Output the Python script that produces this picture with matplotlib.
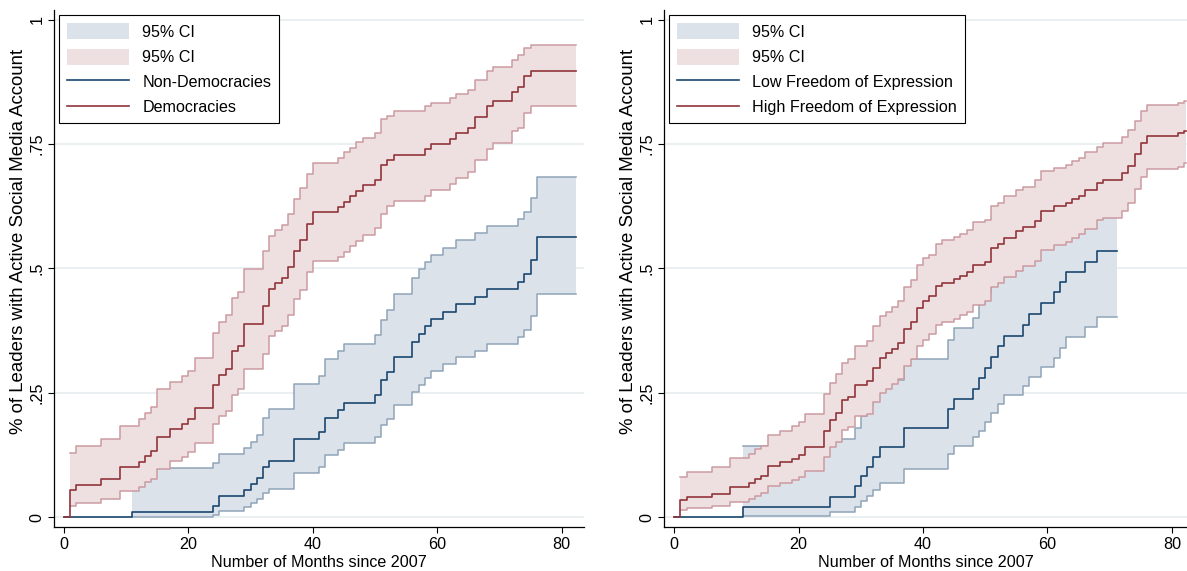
import numpy as np
import matplotlib
matplotlib.use("Agg")
from matplotlib import pyplot as plt
from matplotlib.patches import Patch
from matplotlib.lines import Line2D

# ---- left panel: regime type (Kaplan-Meier style cumulative share) ----
dem_t = [0, 1, 2, 6, 9, 12, 13, 14, 15, 17, 19, 20, 21, 24, 25, 26, 27, 28, 29, 32,
         33, 34, 35, 36, 37, 38, 39, 40, 44, 45, 46, 47, 48, 50, 51, 52, 53, 58, 59, 62,
         63, 65, 66, 68, 69, 72, 73, 74, 75, 82.3]
dem_est = [0, .054, .065, .077, .100, .111, .122, .132, .160, .177, .187, .198, .220, .266, .286,
           .298, .333, .345, .389, .424, .459, .470, .481, .503, .536, .557, .590, .613, .623, .634,
           .645, .656, .667, .678, .708, .719, .729, .740, .750, .761, .772, .783, .805, .826, .837,
           .856, .866, .888, .898, .898]
dem_hi = [0, .128, .143, .157, .184, .197, .209, .222, .258, .271, .283, .294, .319, .370, .392,
          .406, .440, .452, .498, .535, .566, .577, .588, .609, .640, .662, .691, .712, .723, .734,
          .743, .754, .763, .772, .800, .807, .816, .826, .833, .843, .851, .860, .879, .897, .905,
          .919, .929, .943, .949, .949]
dem_lo = [0, .022, .029, .037, .053, .061, .070, .077, .097, .113, .121, .131, .148, .187, .204,
          .214, .246, .257, .297, .328, .364, .374, .384, .406, .439, .457, .492, .515, .524, .534,
          .546, .556, .568, .581, .610, .625, .635, .646, .658, .669, .683, .695, .718, .740, .753,
          .776, .783, .812, .826, .826]

nd_t = [0, 11, 24, 25, 29, 30, 31, 32, 33, 37, 41, 42, 44, 45, 50, 51, 52, 53, 56, 57,
        58, 59, 61, 63, 66, 68, 73, 74, 75, 76, 82.3]
nd_est = [0, .011, .022, .043, .054, .067, .079, .100, .113, .156, .171, .200, .215, .230, .246,
          .276, .292, .322, .352, .369, .385, .399, .413, .428, .443, .458, .473, .488, .518, .563,
          .563]
nd_hi = [0, .099, .109, .127, .138, .150, .165, .200, .217, .268, .284, .317, .334, .349, .367,
         .397, .416, .448, .481, .498, .513, .527, .542, .557, .571, .586, .600, .614, .642, .685,
         .685]
nd_lo = [0, .001, .005, .013, .020, .029, .037, .049, .057, .089, .101, .124, .135, .148, .161,
         .186, .198, .225, .252, .266, .280, .294, .307, .322, .335, .349, .362, .377, .405, .449,
         .449]

# ---- right panel: freedom of expression ----
hf_t = [0, 1, 2, 6, 9, 12, 13, 14, 15, 17, 19, 20, 21, 24, 25, 26, 27, 28, 29, 31,
        32, 33, 34, 35, 36, 37, 38, 39, 40, 41, 42, 43, 45, 46, 47, 48, 50, 51, 52, 53,
        55, 56, 58, 59, 61, 63, 64, 65, 66, 68, 69, 72, 73, 74, 75, 76, 81, 82, 82.3]
hf_est = [0, .034, .041, .047, .060, .068, .076, .083, .103, .110, .117, .125, .140, .174, .196,
          .210, .235, .242, .266, .273, .300, .320, .329, .338, .350, .378, .392, .421, .434, .444,
          .464, .471, .478, .485, .492, .507, .514, .542, .549, .562, .575, .584, .596, .616, .625,
          .631, .639, .646, .658, .672, .678, .692, .706, .730, .753, .767, .772, .777, .777]
hf_hi = [0, .081, .091, .100, .118, .127, .136, .143, .165, .174, .183, .191, .208, .247, .270,
         .288, .310, .317, .344, .354, .384, .405, .413, .422, .435, .463, .477, .507, .521, .528,
         .549, .557, .564, .570, .578, .593, .598, .625, .632, .645, .658, .664, .678, .696, .703,
         .708, .716, .722, .735, .745, .753, .765, .778, .797, .817, .828, .833, .836, .836]
hf_lo = [0, .014, .018, .022, .030, .036, .042, .048, .063, .069, .074, .081, .093, .121, .140,
         .151, .176, .182, .203, .208, .231, .249, .258, .267, .278, .304, .318, .344, .356, .368,
         .386, .392, .399, .407, .412, .427, .435, .463, .470, .482, .495, .506, .516, .537, .547,
         .554, .562, .569, .580, .597, .601, .616, .631, .659, .684, .701, .705, .712, .712]

lf_t = [0, 11, 25, 29, 30, 31, 32, 33, 37, 44, 45, 48, 49, 50, 51, 52, 53, 56, 57, 59,
        61, 62, 63, 66, 68, 71.1]
lf_est = [0, .021, .041, .062, .082, .100, .120, .141, .179, .217, .237, .258, .279, .300, .322,
          .344, .365, .387, .409, .430, .452, .473, .493, .514, .536, .536]
lf_hi = [0, .142, .157, .179, .204, .226, .250, .275, .318, .356, .380, .400, .431, .451, .475,
         .497, .518, .542, .566, .586, .610, .626, .642, .661, .681, .681]
lf_lo = [0, .003, .011, .021, .032, .043, .055, .069, .097, .127, .142, .160, .173, .191, .209,
         .228, .246, .264, .282, .301, .319, .341, .362, .382, .403, .403]

y_ticks = [0, .25, .5, .75, 1]
y_tick_labels = ["0", ".25", ".5", ".75", "1"]
x_ticks = [0, 20, 40, 60, 80]

plt.rcParams["font.family"] = ["Liberation Sans", "DejaVu Sans"]

NAVY = "#1a476f"
MAROON = "#90353b"
BLUE_FILL, BLUE_EDGE = "#dce2e9", "#8fa4b8"
RED_FILL, RED_EDGE = "#eedfe1", "#cc9ba0"
GRID = "#e8eef0"
FS = 11.6


def ci_band(ax, t, lo, hi, fill, edge, z):
    """step-shaped confidence band, starting at the first event"""
    t, lo, hi = np.asarray(t), np.asarray(lo), np.asarray(hi)
    start = np.argmax(hi > 0)
    t, lo, hi = t[start:], lo[start:], hi[start:]
    ax.fill_between(t, lo, hi, step="post", facecolor=fill, edgecolor="none", lw=0, zorder=z)
    ax.step(t, lo, where="post", color=edge, lw=1.1, zorder=z + 0.1)
    ax.step(t, hi, where="post", color=edge, lw=1.1, zorder=z + 0.1)


def panel(ax, blue, red, labels, xlim):
    for y in y_ticks:
        ax.axhline(y, color=GRID, lw=1.3, zorder=0)

    # red band is drawn over the blue one, as in the original
    ci_band(ax, blue[0], blue[2], blue[3], BLUE_FILL, BLUE_EDGE, 1.0)
    ci_band(ax, red[0], red[2], red[3], RED_FILL, RED_EDGE, 1.5)
    ax.step(blue[0], blue[1], where="post", color=NAVY, lw=1.2, zorder=3)
    ax.step(red[0], red[1], where="post", color=MAROON, lw=1.2, zorder=3)

    ax.set_xlim(*xlim)
    ax.set_ylim(-0.0211, 1.0201)
    ax.set_xticks(x_ticks)
    ax.set_yticks(y_ticks)
    ax.set_yticklabels(y_tick_labels, rotation=90, va="center")
    ax.tick_params(direction="out", length=4, width=0.8, labelsize=FS, pad=3)
    for side in ("top", "right"):
        ax.spines[side].set_visible(False)
    for side in ("left", "bottom"):
        ax.spines[side].set_linewidth(0.9)

    ax.set_xlabel("Number of Months since 2007", fontsize=FS, labelpad=2)
    ax.set_ylabel("% of Leaders with Active Social Media Account", fontsize=13.4)
    ax.yaxis.set_label_coords(-0.052, 0.552)

    handles = [Patch(facecolor=BLUE_FILL, edgecolor="none"),
               Patch(facecolor=RED_FILL, edgecolor="none"),
               Line2D([], [], color=NAVY, lw=1.2),
               Line2D([], [], color=MAROON, lw=1.2)]
    leg = ax.legend(handles, ["95% CI", "95% CI"] + labels, loc="upper left",
                    bbox_to_anchor=(0.0094, 0.9897), borderaxespad=0, fontsize=FS,
                    fancybox=False, framealpha=1, edgecolor="black",
                    handlelength=3.85, handleheight=1.15, handletextpad=0.8,
                    labelspacing=0.54, borderpad=0.5)
    leg.get_frame().set_linewidth(0.8)
    leg.set_zorder(5)


fig = plt.figure(figsize=(11.87, 5.71), dpi=100)
ax1 = fig.add_axes([0.0457, 0.0762, 0.4463, 0.9063])
ax2 = fig.add_axes([0.5596, 0.0762, 0.4404, 0.9063])

panel(ax1, (nd_t, nd_est, nd_lo, nd_hi), (dem_t, dem_est, dem_lo, dem_hi),
      ["Non-Democracies", "Democracies"], (-1.56, 83.6))
panel(ax2, (lf_t, lf_est, lf_lo, lf_hi), (hf_t, hf_est, hf_lo, hf_hi),
      ["Low Freedom of Expression", "High Freedom of Expression"], (-1.61, 82.43))

fig.savefig("out.png", dpi=100)
